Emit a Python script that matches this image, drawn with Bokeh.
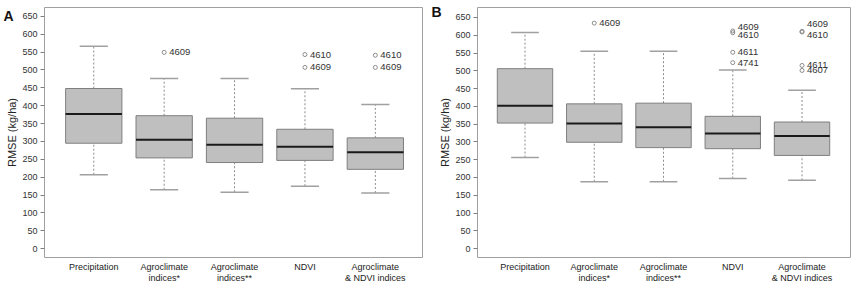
from bokeh.plotting import figure
from bokeh.models import ColumnDataSource, FixedTicker, Range1d, Title, LinearAxis
from bokeh.layouts import row
from bokeh.core.properties import value
from bokeh.embed import file_html
from bokeh.resources import INLINE

categories = ["Precipitation", "Agroclimate\nindices*", "Agroclimate\nindices**",
              "NDVI", "Agroclimate\n& NDVI indices"]
y_ticks = list(range(0, 651, 50))

# Panel A  (box statistics, RMSE kg/ha)
a_low = [207, 165, 158, 175, 156]
a_q1 = [295, 254, 241, 247, 222]
a_med = [377, 305, 291, 285, 270]
a_q3 = [448, 372, 365, 334, 310]
a_high = [566, 476, 476, 447, 403]
a_out_cat = [2, 4, 4, 5, 5]
a_out_val = [549, 543, 507, 541, 507]
a_out_id = ["4609", "4610", "4609", "4610", "4609"]

# Panel B
b_low = [256, 188, 188, 197, 192]
b_q1 = [353, 299, 284, 281, 262]
b_med = [402, 352, 341, 324, 317]
b_q3 = [506, 407, 409, 372, 356]
b_high = [608, 555, 555, 502, 445]
b_out_cat = [2, 4, 4, 4, 4, 5, 5, 5, 5]
b_out_val = [634, 612, 607, 552, 523, 611, 609, 515, 501]
b_out_id = ["4609", "4609", "4610", "4611", "4741", "4609", "4610", "4611", "4607"]

# label nudges (style, px)
a_label_dy = [0, 0, 0, 0, 0]
b_label_dy = [0, -4, 2, 0, 0, -7, 3, 0, 0]

FONT = "Liberation Sans"


def make_panel(letter, low, q1, med, q3, high, oc, ov, oid, ody,
               xr, yr, width, mbl, mbr, mbt, mbb, letter_y, letter_standoff):
    p = figure(width=width, height=285, x_range=Range1d(*xr), y_range=Range1d(*yr),
               output_backend="svg", toolbar_location=None,
               min_border_left=mbl, min_border_right=mbr,
               min_border_top=mbt, min_border_bottom=mbb)
    p.grid.visible = False
    p.outline_line_color = "#a0a0a0"
    p.outline_line_width = 1
    xs = list(range(1, len(low) + 1))
    src = ColumnDataSource(dict(
        x=xs, low=low, q1=q1, med=med, q3=q3, high=high,
        x0=[x - 0.4 for x in xs], x1=[x + 0.4 for x in xs],
        c0=[x - 0.2 for x in xs], c1=[x + 0.2 for x in xs]))
    p.segment(x0="x", y0="q3", x1="x", y1="high", source=src,
              line_color="#8c8c8c", line_dash="2 2", line_width=1)
    p.segment(x0="x", y0="low", x1="x", y1="q1", source=src,
              line_color="#8c8c8c", line_dash="2 2", line_width=1)
    p.segment(x0="c0", y0="high", x1="c1", y1="high", source=src,
              line_color="#a0a0a0", line_width=1.5)
    p.segment(x0="c0", y0="low", x1="c1", y1="low", source=src,
              line_color="#a0a0a0", line_width=1.5)
    p.vbar(x="x", width=0.8, bottom="q1", top="q3", source=src,
           fill_color="#bfbfbf", line_color="#7f7f7f", line_width=1)
    p.segment(x0="x0", y0="med", x1="x1", y1="med", source=src,
              line_color="#1a1a1a", line_width=2)

    osrc = ColumnDataSource(dict(x=oc, y=ov, t=oid, dy=ody))
    p.scatter(x="x", y="y", source=osrc, marker="circle", size=4,
              fill_color=None, line_color="#8c8c8c", line_width=1)
    p.text(x="x", y="y", text="t", source=osrc, x_offset=5, y_offset="dy",
           text_font_size="9.5px", text_baseline="middle", text_color="#333333",
           text_font=value(FONT))

    ya = p.yaxis[0]
    ya.ticker = FixedTicker(ticks=y_ticks)
    ya.axis_line_color = None
    ya.major_tick_out = 4
    ya.major_tick_in = 0
    ya.minor_tick_line_color = None
    ya.major_tick_line_color = "#808080"
    ya.major_label_text_font = FONT
    ya.major_label_text_font_size = "9px"
    ya.major_label_text_color = "#333333"
    ya.major_label_standoff = 3

    xa = p.xaxis[0]
    xa.ticker = FixedTicker(ticks=xs)
    xa.major_label_overrides = {i + 1: c for i, c in enumerate(categories)}
    xa.axis_line_color = None
    xa.major_tick_line_color = None
    xa.major_tick_out = 0
    xa.major_tick_in = 0
    xa.minor_tick_line_color = None
    xa.major_label_standoff = 4
    xa.major_label_text_font = FONT
    xa.major_label_text_font_size = "9px"
    xa.major_label_text_color = "#222222"
    xa.major_label_text_line_height = 1.1

    # y-axis title
    p.add_layout(Title(text="RMSE (kg/ha)", align="center", text_font=FONT,
                       text_font_size="11px", text_font_style="normal",
                       text_color="#222222", standoff=3), "left")

    # panel letter, drawn as the single tick label of an outer axis
    la = LinearAxis(ticker=FixedTicker(ticks=[letter_y]),
                    major_label_overrides={letter_y: letter},
                    axis_line_color=None, major_tick_line_color=None,
                    minor_tick_line_color=None, major_tick_out=0, major_tick_in=0,
                    major_label_standoff=letter_standoff,
                    major_label_text_font=FONT, major_label_text_font_size="14px",
                    major_label_text_font_style="bold",
                    major_label_text_color="#111111")
    p.add_layout(la, "left")
    return p


pA = make_panel("A", a_low, a_q1, a_med, a_q3, a_high,
                a_out_cat, a_out_val, a_out_id, a_label_dy,
                (0.30, 5.67), (-24.5, 674.5), 428, 43, 6, 4, 24, 650, -11)
pB = make_panel("B", b_low, b_q1, b_med, b_q3, b_high,
                b_out_cat, b_out_val, b_out_id, b_label_dy,
                (0.314, 5.70), (-25, 678), 423, 45, 1, 7, 27, 665, -6)

layout = row(pA, pB)
open("out.html", "w").write(file_html(layout, INLINE))
